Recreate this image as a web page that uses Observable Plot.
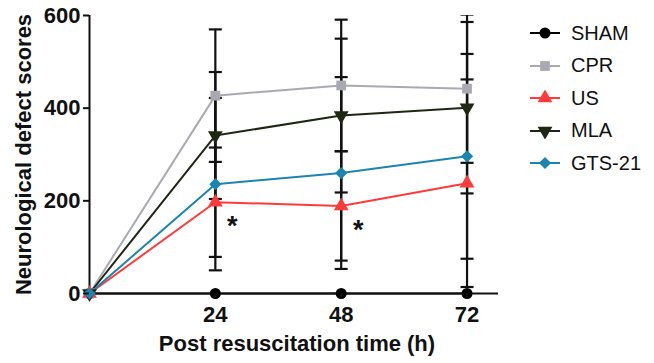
<!DOCTYPE html>
<html><head><meta charset="utf-8">
<script src="https://cdn.jsdelivr.net/npm/d3@7"></script>
<script src="https://cdn.jsdelivr.net/npm/@observablehq/plot@0.6"></script>
<style>
body{margin:0;background:#fff;}
#wrap{position:relative;width:654px;height:363px;}
#legend{position:absolute;left:528px;top:17px;font-family:"Liberation Sans",Arial,sans-serif;font-size:20px;color:#111;}
.row{display:flex;align-items:center;height:32.5px;}
.row svg{margin-right:9px;}
</style></head><body><div id="wrap"></div>
<script>
// ---- data ----
const times = [0, 24, 48, 72];
const groups = ["SHAM", "CPR", "US", "MLA", "GTS-21"];
const sham = [0, 0, 0, 0];
const cpr  = [0, 427, 449, 442];
const us   = [0, 197, 189, 238];
const mla  = [0, 341, 384, 401];
const gts  = [0, 236, 260, 296];
const shamSD = [0, 0, 0, 0];
const cprSD  = [0, 143, 142, 160];
const usSD   = [0, 118, 118, 224];
const mlaSD  = [0, 137, 166, 185];
const gtsSD  = [0, 186, 207, 221];
const sigTimes = [24, 48];
const sigLabels = ["*", "*"];
const yTicks = [0, 200, 400, 600];
const xTicks = [24, 48, 72];
const colors = ["#000000", "#a9a9b1", "#ff3a3a", "#1e2614", "#1b85b0"];
const symbols = ["circle", "square", "triangle", "triangle", "diamond2"];

const means = [sham, cpr, us, mla, gts];
const sds = [shamSD, cprSD, usSD, mlaSD, gtsSD];
const rows = [];
groups.forEach((g, i) => times.forEach((t, j) =>
  rows.push({group: g, time: t, mean: means[i][j], sd: sds[i][j], lo: means[i][j] - sds[i][j], hi: means[i][j] + sds[i][j]})));
const bars = rows.filter(d => d.sd > 0);
const sig = sigTimes.map((t, k) => ({time: t, label: sigLabels[k], mean: us[times.indexOf(t)]}));

const cap = {draw(ctx) { ctx.moveTo(-6.5, 0); ctx.lineTo(6.5, 0); }};

const chart = Plot.plot({
  width: 654, height: 363,
  marginLeft: 89, marginRight: 156, marginTop: 15, marginBottom: 70,
  style: {fontFamily: "'Liberation Sans', Arial, sans-serif", fontWeight: "bold", color: "#111", background: "#fff"},
  x: {domain: [0, 78]},
  y: {domain: [0, 600]},
  color: {domain: groups, range: colors},
  symbol: {domain: groups, range: symbols},
  marks: [
    Plot.lineY(rows, {x: "time", y: "mean", z: "group", stroke: "group", strokeWidth: 2}),
    Plot.ruleX(bars, {x: "time", y1: "lo", y2: "hi", stroke: "#111", strokeWidth: 2.2, clip: true}),
    Plot.dot(bars, {x: "time", y: "lo", symbol: cap, fill: "none", stroke: "#111", strokeWidth: 2.2, clip: true}),
    Plot.dot(bars, {x: "time", y: "hi", symbol: cap, fill: "none", stroke: "#111", strokeWidth: 2.2, clip: true}),
    Plot.ruleX([0], {stroke: "#111", strokeWidth: 2}),
    Plot.ruleY([0], {stroke: "#111", strokeWidth: 2}),
    Plot.dot(rows, {x: "time", y: "mean", fill: "group", symbol: "group", r: 5.5,
      rotate: d => d.group === "MLA" ? 180 : 0}),
    Plot.text(sig, {x: "time", y: "mean", text: "label", dx: 17, dy: 24, fontSize: 27, fill: "#111"}),
    Plot.axisY({ticks: yTicks, tickSize: 6, tickPadding: 3, fontSize: 22, strokeWidth: 2, label: null}),
    Plot.axisX({ticks: xTicks, tickSize: 6, tickPadding: 7, fontSize: 22, strokeWidth: 2, label: null}),
    Plot.text(["Neurological defect scores"], {frameAnchor: "left", textAnchor: "middle", rotate: -90, dx: -66, dy: 0, fontSize: 22, fill: "#111"}),
    Plot.text(["Post resuscitation time (h)"], {frameAnchor: "bottom", dx: 3, dy: 57, fontSize: 22, fill: "#111"})
  ]
});
const wrap = document.getElementById("wrap");
wrap.appendChild(chart);

// legend
const legend = document.createElement("div");
legend.id = "legend";
groups.forEach((g, i) => {
  const row = document.createElement("div");
  row.className = "row";
  const s = d3.create("svg").attr("width", 34).attr("height", 16);
  s.append("line").attr("x1", 2).attr("x2", 32).attr("y1", 8).attr("y2", 8)
    .attr("stroke", colors[i]).attr("stroke-width", 2);
  const symMap = {circle: d3.symbolCircle, square: d3.symbolSquare, triangle: d3.symbolTriangle, diamond2: d3.symbolDiamond2};
  s.append("path").attr("d", d3.symbol(symMap[symbols[i]], Math.PI * 5.5 * 5.5)())
    .attr("fill", colors[i])
    .attr("transform", `translate(17,8) rotate(${g === "MLA" ? 180 : 0})`);
  row.appendChild(s.node());
  const t = document.createElement("span");
  t.textContent = g;
  row.appendChild(t);
  legend.appendChild(row);
});
wrap.appendChild(legend);
</script></body></html>
